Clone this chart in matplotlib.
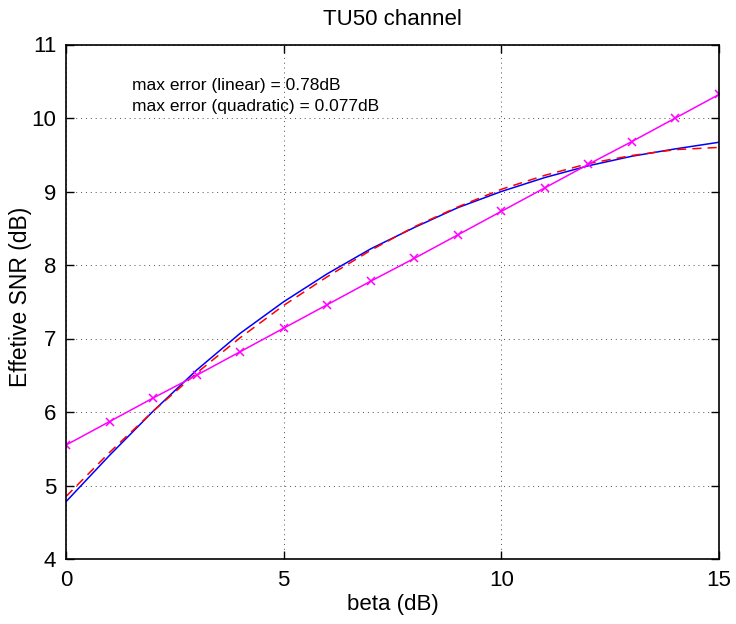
import numpy as np
import matplotlib
matplotlib.use('Agg')
import matplotlib.pyplot as plt

plt.rcParams['font.family'] = ['Liberation Sans', 'DejaVu Sans']

beta = [0, 1, 2, 3, 4, 5, 6, 7, 8, 9, 10, 11, 12, 13, 14, 15]
snr_eff = [4.78, 5.41, 6.01, 6.57, 7.07, 7.50, 7.88, 8.22, 8.51, 8.78, 9.00, 9.19, 9.35, 9.48, 9.58, 9.67]
snr_quad = [4.85, 5.45, 6.01, 6.53, 7.01, 7.45, 7.84, 8.20, 8.52, 8.79, 9.03, 9.22, 9.38, 9.49, 9.57, 9.60]
snr_lin = [5.55, 5.87, 6.19, 6.50, 6.82, 7.14, 7.46, 7.78, 8.09, 8.41, 8.73, 9.05, 9.37, 9.68, 10.00, 10.32]

fig = plt.figure(figsize=(7.36, 6.24), dpi=100)
ax = fig.add_axes([66/736, 1-559/624, (719-66)/736, (559-44.5)/624])

ax.plot(beta, snr_eff, color='blue', lw=1.1)
ax.plot(beta, snr_quad, color='red', ls=(0, (6, 4)), lw=1.1)
ax.plot(beta, snr_lin, color='magenta', lw=1.1, marker='x', ms=6, mew=1.1)

ax.set_xlim(0, 15)
ax.set_ylim(4, 11)
ax.set_xticks([0, 5, 10, 15])
ax.set_yticks(range(4, 12))
ax.grid(True, color='black', ls=(0, (1, 4)), lw=0.7, alpha=0.7)
ax.tick_params(direction='in', top=True, right=True, labelsize=16, length=6, width=1)
ax.tick_params(axis='x', pad=8)
ax.tick_params(axis='y', pad=7)
for s in ax.spines.values():
    s.set_linewidth(1.2)

ax.set_xlabel('beta (dB)', fontsize=16, labelpad=2)
ax.set_ylabel('Effetive SNR (dB)', fontsize=16.5)
ax.yaxis.set_label_coords(-0.052, 0.509)
ax.set_title('TU50 channel', fontsize=16, pad=14)

ax.text(1.52, 10.44, 'max error (linear) = 0.78dB', fontsize=12.5, va='center')
ax.text(1.52, 10.16, 'max error (quadratic) = 0.077dB', fontsize=12.5, va='center')

fig.savefig('out.png', dpi=100)
